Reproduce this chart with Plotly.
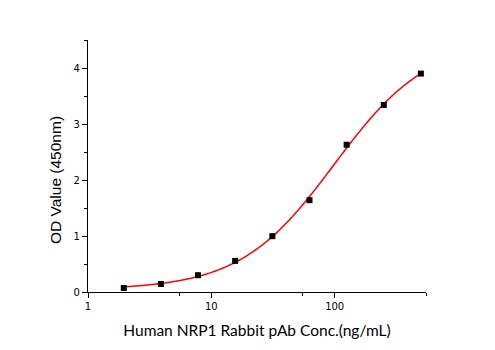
import numpy as np
import plotly.graph_objects as go

# Antibody concentration (ng/mL) and measured OD at 450 nm
conc = [1.95, 3.9, 7.8, 15.6, 31.25, 62.5, 125, 250, 500]
od450 = [0.072, 0.143, 0.30, 0.555, 0.997, 1.64, 2.63, 3.34, 3.90]

x_major_ticks = [1, 10, 100]
x_minor_ticks = [5.5, 55, 550]
y_major_ticks = [0, 1, 2, 3, 4]
y_minor_ticks = [0.5, 1.5, 2.5, 3.5, 4.5]


def four_pl(x, p):
    bottom, top, ec50, hill = p
    return top + (bottom - top) / (1.0 + (x / ec50) ** hill)


def fit_four_pl(x, y, p0, iters=300):
    """Levenberg-Marquardt fit of a four-parameter logistic."""
    p = np.array(p0, dtype=float)
    lam = 1e-2
    for _ in range(iters):
        r = y - four_pl(x, p)
        J = np.empty((len(x), 4))
        for k in range(4):
            dp = np.zeros(4)
            dp[k] = 1e-6 * max(abs(p[k]), 1e-3)
            J[:, k] = (four_pl(x, p + dp) - four_pl(x, p - dp)) / (2 * dp[k])
        A = J.T @ J
        g = J.T @ r
        step = np.linalg.solve(A + lam * np.diag(np.diag(A)), g)
        p_new = p + step
        if p_new[2] > 0 and np.sum((y - four_pl(x, p_new)) ** 2) < np.sum(r ** 2):
            p = p_new
            lam *= 0.5
        else:
            lam *= 4
    return p


x = np.array(conc)
y = np.array(od450)
params = fit_four_pl(x, y, [0.03, 4.5, 90.0, 1.2])
x_fit = np.logspace(np.log10(conc[0]), np.log10(conc[-1]), 400)
y_fit = four_pl(x_fit, params)

fig = go.Figure()
fig.add_trace(go.Scatter(
    x=x_fit, y=y_fit, mode="lines",
    line=dict(color="#ff0000", width=1.5, simplify=False),
    hoverinfo="skip", showlegend=False,
))
fig.add_trace(go.Scatter(
    x=conc, y=od450, mode="markers",
    marker=dict(symbol="square", size=6, color="black"),
    showlegend=False,
))

fig.update_layout(
    width=495, height=350,
    margin=dict(l=88, r=69, t=40, b=58),
    plot_bgcolor="white", paper_bgcolor="white",
    font=dict(family="DejaVu Sans", color="black", size=11),
)
fig.update_xaxes(
    type="log", range=[0, np.log10(550)],
    tickvals=x_major_ticks, ticktext=[str(v) for v in x_major_ticks],
    ticks="outside", ticklen=5, tickwidth=1, tickcolor="black",
    minor=dict(tickvals=x_minor_ticks, ticks="outside", ticklen=3,
               tickwidth=1, tickcolor="black", showgrid=False),
    showline=True, linecolor="black", linewidth=1.2,
    showgrid=False, zeroline=False,
    title=dict(text="Human NRP1 Rabbit pAb Conc.(ng/mL)",
               font=dict(family="Lato", size=15.5), standoff=14),
    tickfont=dict(family="DejaVu Sans", size=10),
)
fig.update_yaxes(
    range=[0, 4.5],
    tickvals=y_major_ticks,
    ticks="outside", ticklen=5, tickwidth=1, tickcolor="black",
    minor=dict(tickvals=y_minor_ticks, ticks="outside", ticklen=3,
               tickwidth=1, tickcolor="black", showgrid=False),
    showline=True, linecolor="black", linewidth=1.2,
    showgrid=False, zeroline=False,
    tickfont=dict(family="DejaVu Sans", size=10),
)

# Vertical axis title, placed a little below the plot-area centre
fig.add_annotation(
    text="OD Value (450nm)", textangle=-90,
    xref="paper", yref="paper", x=-0.0942, y=0.445,
    xanchor="center", yanchor="middle", showarrow=False,
    font=dict(family="Liberation Sans", size=15.5, color="black"),
)

fig.write_html("out.html")
